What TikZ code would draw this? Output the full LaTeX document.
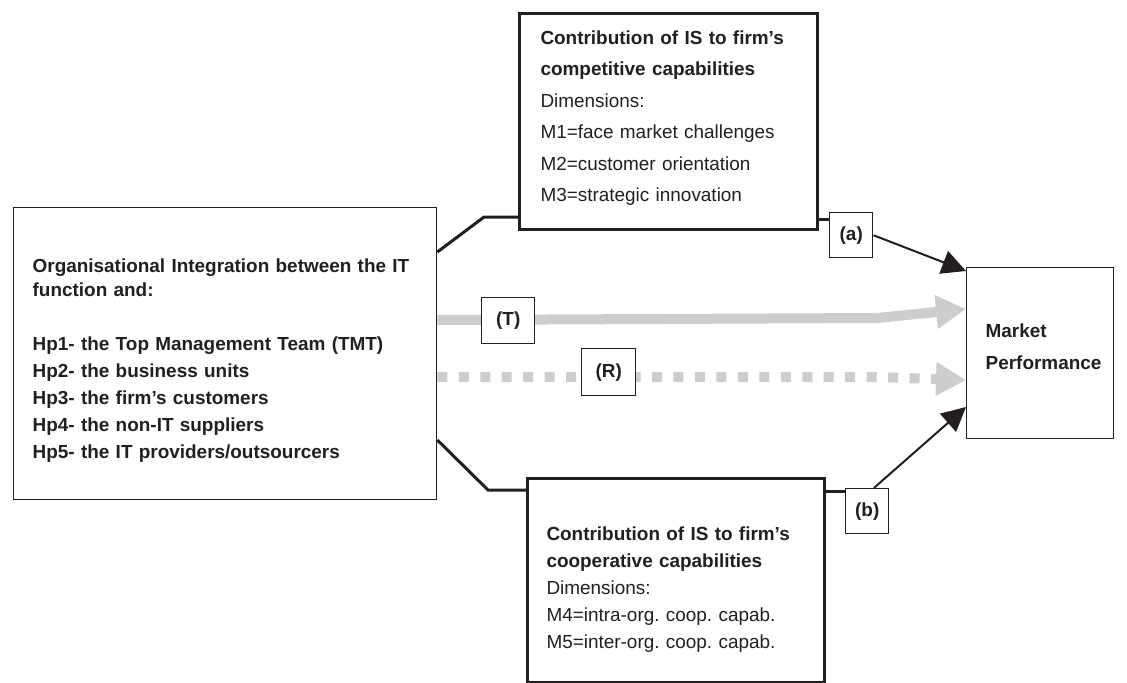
\documentclass[tikz,border=0pt]{standalone}
\usepackage{fontspec}
\setmainfont{Liberation Sans}
\usetikzlibrary{arrows.meta}
\definecolor{lg}{RGB}{205,205,205}
\definecolor{ink}{RGB}{35,31,32}
\begin{document}
\frenchspacing
\begin{tikzpicture}[x=0.75pt,y=-0.75pt,
  box/.style={draw=ink, anchor=north west, align=left, inner ysep=0pt, text=ink, fill=white},
  thickbox/.style={box, line width=2.25pt},
  thinbox/.style={box, line width=1pt},
  tag/.style={draw=ink, fill=white, anchor=north west, line width=1.1pt, inner sep=0pt, font=\fontsize{14.2}{17}\selectfont\bfseries, text=ink},
  conn/.style={draw=ink, line width=2.25pt},
  blk/.style={draw=ink, line width=1.5pt, -{Triangle[length=18pt,width=18pt]}},
  gry/.style={draw=lg, line width=7.5pt, -{Triangle[length=22.5pt,width=24pt]}},
]
\useasboundingbox (0,0) rectangle (1127,682);

% helper coordinates
\coordinate (c1) at (0,252);
\coordinate (k1) at (484,217);
\coordinate (c2) at (0,440);
\coordinate (k2) at (488,490);
\coordinate (ka) at (0,219);
\coordinate (kb) at (0,491);
\coordinate (tT0) at (0,320);
\coordinate (t1) at (877,318);
\coordinate (tT2) at (0,309);
\coordinate (rR0) at (0,377);
\coordinate (r1) at (875,377);
\coordinate (rR2) at (0,380);
\coordinate (pa) at (0,271);
\coordinate (pb) at (0,407);

\node[thickbox, minimum width=223.5pt, minimum height=162pt, inner xsep=15.75pt, text width=192pt,
  font=\fontsize{14.2}{23.6}\selectfont] (comp) at (518,12)
  {\textbf{Contribution of IS to firm’s}\\ \textbf{competitive capabilities}\\ Dimensions:\\ M1=face market challenges\\ M2=customer orientation\\ M3=strategic innovation\vspace*{5pt}};

\node[thinbox, minimum width=317.25pt, minimum height=219pt, inner xsep=14.25pt, text width=288.75pt,
  font=\fontsize{14.2}{20.25}\selectfont\bfseries] (org) at (13,207)
  {\rule{0pt}{20.6pt}Organisational Integration between the IT\\[-2.25pt] function and:\\[20.25pt] Hp1- the Top Management Team (TMT)\\ Hp2- the business units\\ Hp3- the firm’s customers\\ Hp4- the non-IT suppliers\\ Hp5- the IT providers/outsourcers};

\node[thickbox, minimum width=222.75pt, minimum height=153pt, inner xsep=14.25pt, text width=194.25pt,
  font=\fontsize{14.2}{20.25}\selectfont] (coop) at (526,477)
  {\rule{0pt}{23.2pt}\textbf{Contribution of IS to firm’s}\\ \textbf{cooperative capabilities}\\ Dimensions:\\ M4=intra-org. coop. capab.\\ M5=inter-org. coop. capab.};

\node[thinbox, minimum width=110.25pt, minimum height=128.25pt, inner xsep=14.25pt, text width=81.75pt,
  font=\fontsize{14.2}{24}\selectfont\bfseries] (mp) at (966,267)
  {Market\\ Performance\vspace*{9.75pt}};

% gray arrows
\draw[gry] (org.east |- tT0) -- (t1) -- (mp.west |- tT2);
\draw[gry, dash pattern=on 7.5pt off 8.6pt] (org.east |- rR0) -- (r1) -- (mp.west |- rR2);

% tags
\node[tag, minimum width=32.25pt, minimum height=33.75pt] (a) at (829,212) {(a)};
\node[tag, minimum width=32.25pt, minimum height=33.75pt] (b) at (845,488) {(b)};
\node[tag, minimum width=39.75pt, minimum height=34.5pt] (T) at (481,297) {(T)};
\node[tag, minimum width=40.5pt, minimum height=35.25pt] (R) at (581,348) {(R)};

% connectors
\draw[conn] (org.east |- c1) -- (k1) -- (comp.west |- k1);
\draw[conn] (org.east |- c2) -- (k2) -- (coop.west |- k2);
\draw[conn] (comp.east |- ka) -- (a.west |- ka);
\draw[conn] (coop.east |- kb) -- (b.west |- kb);

% black arrows
\draw[blk] (a.east) -- (mp.west |- pa);
\draw[blk] ([xshift=5pt]b.north) -- (mp.west |- pb);
\end{tikzpicture}
\end{document}
